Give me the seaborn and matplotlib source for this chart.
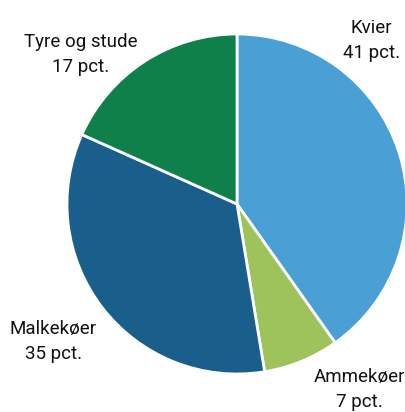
import matplotlib
matplotlib.use("Agg")
import matplotlib.pyplot as plt
import seaborn as sns

# Data
categories = ["Kvier", "Ammekøer", "Malkekøer", "Tyre og stude"]
label_pct = [41, 7, 35, 17]              # as printed in the labels
shares = [40.2, 7.2, 34.3, 18.3]         # wedge sizes as drawn
colors = ["#4a9fd4", "#9dc35a", "#1a5f8c", "#10804a"]

sns.set_theme(style="white")
plt.rcParams['font.family'] = ['Roboto', 'DejaVu Sans']

fig = plt.figure(figsize=(4.06, 4.12), dpi=100)
# pie centre ~ (237, 204) px, radius ~ 170 px
ax = fig.add_axes([67 / 406, 38 / 412, 340 / 406, 340 / 412])
pal = sns.color_palette(colors)

ax.pie(shares, colors=pal, startangle=90, counterclock=False,
       wedgeprops=dict(edgecolor="white", linewidth=2))
ax.set_xlim(-1, 1)
ax.set_ylim(-1, 1)
ax.set_aspect("equal")
ax.axis("off")

# label positions (data coords)
label_pos = [(0.79, 0.96), (0.72, -1.09), (-1.08, -0.81), (-0.92, 0.88)]
for cat, val, (x, y) in zip(categories, label_pct, label_pos):
    ax.text(x, y, f"{cat}\n{val} pct.", ha="center", va="center",
            fontsize=13.5, linespacing=1.5, color="#111111", clip_on=False)

fig.savefig("out.png", dpi=100)
